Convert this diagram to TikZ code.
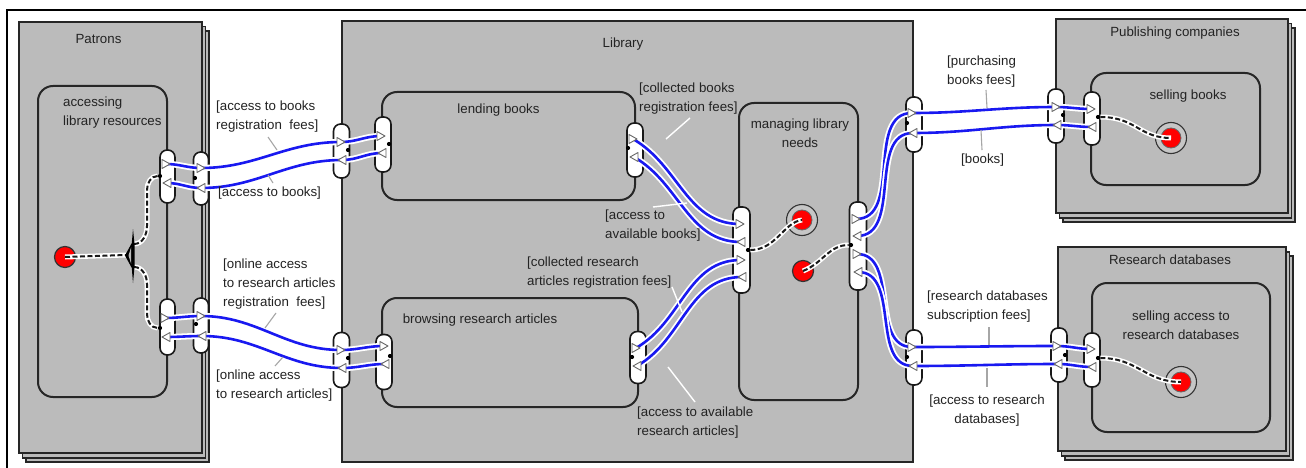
\documentclass[tikz,border=0pt]{standalone}
\usepackage{fontspec}
\setmainfont{Liberation Sans}
\usetikzlibrary{calc}
\definecolor{boxgray}{RGB}{187,187,187}
\definecolor{flowblue}{RGB}{25,25,240}
\definecolor{txt}{RGB}{35,35,35}
\newcommand\trR[1]{\draw[tri] ([shift={(-4,-4.5)}]#1) -- ([shift={(4,0)}]#1) -- ([shift={(-4,4.5)}]#1) -- cycle;}
\newcommand\trL[1]{\draw[tri] ([shift={(4,-4.5)}]#1) -- ([shift={(-4,0)}]#1) -- ([shift={(4,4.5)}]#1) -- cycle;}
\begin{document}
\begin{tikzpicture}[x=1pt,y=-1pt,
  every node/.style={font=\fontsize{13.3}{19}\selectfont, text=txt},
  stack/.style={draw=black!85, line width=1.9, fill=boxgray},
  act/.style={draw=black!85, line width=2, fill=boxgray, rounded corners=15},
  pinbox/.style={draw=black!90, line width=1.6, fill=white, minimum width=15, inner sep=0, rounded corners=7.2},
  flow/.style={draw=flowblue, line width=2.6, preaction={draw=white, line width=6.2}},
  ctrl/.style={draw=black!90, line width=2, dash pattern=on 5pt off 2.5pt, preaction={draw=white, line width=5, solid}},
  lead/.style={draw=gray!70, line width=1.1},
  leadw/.style={draw=white, line width=1.4},
  tri/.style={draw=gray!80!black, fill=white, line width=0.9, line join=round},
  lab/.style={align=left, anchor=west, inner sep=0},
  pdot/.style={circle, fill=black, inner sep=0, minimum size=4.2},
  initnode/.style={circle, fill=red, draw=black!80, line width=1.2, minimum size=21, inner sep=0},
  finring/.style={circle, fill=gray!45, draw=black!80, line width=1.1, minimum size=31, inner sep=0},
  findot/.style={circle, fill=red, draw=black!60, line width=0.8, minimum size=20, inner sep=0}]
\useasboundingbox (0,0) rectangle (1306,468);
\fill[white] (0,0) rectangle (1306,468);
% frame
\draw[line width=1.5] (7,470) -- (7,10) -- (1308,10);

% stacked boxes
\foreach \d in {7,3.5}{
  \draw[stack] (19+\d,22+\d*1.3) rectangle (202+\d,453+\d*1.3);
  \draw[stack] (1056+\d,19+\d*1.3) rectangle (1288+\d,213+\d*1.3);
  \draw[stack] (1058+\d,247+\d*1.3) rectangle (1286+\d,451+\d*1.3);
}
\draw[stack] (19,22) rectangle (202,453);
\draw[stack] (1056,19) rectangle (1288,213);
\draw[stack] (1058,247) rectangle (1286,451);
\draw[stack] (342,21) rectangle (913,462);

% activities
\draw[act] (38,86) rectangle (167,397);
\draw[act] (382,92) rectangle (635,200);
\draw[act] (382,298) rectangle (638,407);
\draw[act] (739,103) rectangle (858,400);
\draw[act] (1091,73) rectangle (1260,185);
\draw[act] (1092,283) rectangle (1270,432);

% titles
\node (tPat) at (98.5,39) {Patrons};
\node (tLib) at (623,44) {Library};
\node (tPub) at (1175,33) {Publishing companies};
\node (tRes) at (1170,260) {Research databases};
\node[lab] (tAcc) at (63,112.5) {accessing\\library resources};
\node (tLend) at (498.5,110) {lending books};
\node (tBrow) at (480,320) {browsing research articles};
\node[align=center] (tMan) at (800,133) {managing library\\needs};
\node (tSell) at (1188,96) {selling books};
\node[align=center] (tSellA) at (1181,325) {selling access to\\research databases};

% pins
\node[pinbox, minimum height=53] (P1) at (167.5,176.5) {};
\node[pinbox, minimum height=53] (P2) at (201,178.5) {};
\node[pinbox, minimum height=56] (P3) at (167.5,327) {};
\node[pinbox, minimum height=55] (P4) at (201,325.5) {};
\node[pinbox, minimum height=54, minimum width=16] (L1) at (341.5,151) {};
\node[pinbox, minimum height=55, minimum width=16] (L2) at (383,144.5) {};
\node[pinbox, minimum height=55, minimum width=16] (L3) at (341.5,360) {};
\node[pinbox, minimum height=55, minimum width=16] (L4) at (384,362) {};
\node[pinbox, minimum height=54, minimum width=16] (L5) at (635,150) {};
\node[pinbox, minimum height=52, minimum width=16] (L6) at (638,357.5) {};
\node[pinbox, minimum height=86, minimum width=17] (M1) at (741.5,250) {};
\node[pinbox, minimum height=88, minimum width=17] (M2) at (858,246) {};
\node[pinbox, minimum height=55, minimum width=16] (R1) at (914,124.5) {};
\node[pinbox, minimum height=55, minimum width=16] (R2) at (914,357.5) {};
\node[pinbox, minimum height=54, minimum width=16] (B1) at (1056,116) {};
\node[pinbox, minimum height=53, minimum width=16] (B2) at (1092,118.5) {};
\node[pinbox, minimum height=54, minimum width=16] (D1) at (1059,355) {};
\node[pinbox, minimum height=54, minimum width=16] (D2) at (1092,360) {};

% triangle points on pins
\coordinate (P1a) at (166,164); \coordinate (P1b) at (167,183);
\coordinate (P2a) at (201,168); \coordinate (P2b) at (201,188);
\coordinate (L1a) at (341,142); \coordinate (L1b) at (342,160);
\coordinate (L2a) at (381,136); \coordinate (L2b) at (382,153);
\coordinate (P3a) at (165,318); \coordinate (P3b) at (166,337);
\coordinate (P4a) at (201,316); \coordinate (P4b) at (202,336);
\coordinate (L3a) at (341,350); \coordinate (L3b) at (342,368);
\coordinate (L4a) at (384,346); \coordinate (L4b) at (385,364);
\coordinate (L5a) at (633,139); \coordinate (L5b) at (634,157);
\coordinate (L6a) at (636,348); \coordinate (L6b) at (637,366);
\coordinate (M1a) at (740,224); \coordinate (M1b) at (741,242);
\coordinate (M1c) at (741,260); \coordinate (M1d) at (742,277);
\coordinate (M2a) at (856,219); \coordinate (M2b) at (857,236);
\coordinate (M2c) at (857,254); \coordinate (M2d) at (858,272);
\coordinate (R1a) at (912,113); \coordinate (R1b) at (913,133);
\coordinate (R2a) at (912,347); \coordinate (R2b) at (913,366);
\coordinate (B1a) at (1056,107); \coordinate (B1b) at (1057,125);
\coordinate (B2a) at (1091,109); \coordinate (B2b) at (1092,127);
\coordinate (D1a) at (1057,346); \coordinate (D1b) at (1058,364);
\coordinate (D2a) at (1091,349); \coordinate (D2b) at (1092,367);

% object flows
\draw[flow] (P1a) to[out=0,in=180] (P2a);
\draw[flow] (P2a) to[out=0,in=180] (L1a);
\draw[flow] (L1a) to[out=0,in=180] (L2a);
\draw[flow] (L2b) to[out=180,in=0] (L1b);
\draw[flow] (L1b) to[out=180,in=0] (P2b);
\draw[flow] (P2b) to[out=180,in=0] (P1b);
\draw[flow] (P3a) to[out=0,in=180] (P4a);
\draw[flow] (P4a) to[out=0,in=180] (L3a);
\draw[flow] (L3a) to[out=0,in=180] (L4a);
\draw[flow] (L4b) to[out=180,in=0] (L3b);
\draw[flow] (L3b) to[out=180,in=0] (P4b);
\draw[flow] (P4b) to[out=180,in=0] (P3b);
\draw[flow] (L5a) to[out=-30,in=180] (M1a);
\draw[flow] (M1b) to[out=180,in=-30] (L5b);
\draw[flow] (L6a) to[out=30,in=180] (M1c);
\draw[flow] (M1d) to[out=180,in=30] (L6b);
\draw[flow] (M2a) to[out=0,in=180] (R1a);
\draw[flow] (R1b) to[out=180,in=0] (M2b);
\draw[flow] (M2c) to[out=0,in=180] (R2a);
\draw[flow] (R2b) to[out=180,in=0] (M2d);
\draw[flow] (R1a) to[out=0,in=180] (B1a);
\draw[flow] (B1b) to[out=180,in=0] (R1b);
\draw[flow] (B1a) to[out=0,in=180] (B2a);
\draw[flow] (B2b) to[out=180,in=0] (B1b);
\draw[flow] (R2a) to[out=0,in=180] (D1a);
\draw[flow] (D1b) to[out=180,in=0] (R2b);
\draw[flow] (D1a) to[out=0,in=180] (D2a);
\draw[flow] (D2b) to[out=180,in=0] (D1b);

% triangles
\trR{P1a} \trL{P1b} \trR{P2a} \trL{P2b}
\trR{L1a} \trL{L1b} \trR{L2a} \trL{L2b}
\trR{P3a} \trL{P3b} \trR{P4a} \trL{P4b}
\trR{L3a} \trL{L3b} \trR{L4a} \trL{L4b}
\trR{L5a} \trL{L5b} \trR{L6a} \trL{L6b}
\trR{M1a} \trL{M1b} \trR{M1c} \trL{M1d}
\trR{M2a} \trL{M2b} \trR{M2c} \trL{M2d}
\trR{R1a} \trL{R1b} \trR{R2a} \trL{R2b}
\trR{B1a} \trL{B1b} \trR{B2a} \trL{B2b}
\trR{D1a} \trL{D1b} \trR{D2a} \trL{D2b}

% pin dots
\node[pdot] (P1d) at (160,176) {};
\node[pdot] (P2d) at (195,178) {};
\node[pdot] (P3d) at (160,328) {};
\node[pdot] (P4d) at (196,324) {};
\node[pdot] (L1d) at (348,150) {};
\node[pdot] (L2d) at (389,144) {};
\node[pdot] (L3d) at (348,358) {};
\node[pdot] (L4d) at (390,356) {};
\node[pdot] (L5d) at (628,148) {};
\node[pdot] (L6d) at (632,357) {};
\node[pdot] (M1d0) at (748,250) {};
\node[pdot] (M2d0) at (851,245) {};
\node[pdot] (R1d) at (907,123) {};
\node[pdot] (R2d) at (907,357) {};
\node[pdot] (B1d) at (1063,115) {};
\node[pdot] (B2d) at (1098,117) {};
\node[pdot] (D1d) at (1065,355) {};
\node[pdot] (D2d) at (1098,358) {};

% initial / final nodes
\node[initnode] (init1) at (65,257) {};
\node[initnode] (init2) at (803,271) {};
\node[finring] (fin1) at (802,220) {};
\node[findot] (fin1d) at (fin1) {};
\node[finring] (fin2) at (1171,138) {};
\node[findot] (fin2d) at (fin2) {};
\node[finring] (fin3) at (1181,382) {};
\node[findot] (fin3d) at (fin3) {};

% fork
\coordinate (forkin) at (126,255);
\coordinate (forktop) at (134,244);
\coordinate (forkbot) at (134,267);
\coordinate (forkv1) at (147,226);
\coordinate (forkv2) at (147,190);
\coordinate (forkv3) at (147,284);
\coordinate (forkv4) at (147,314);

% control flows
\draw[ctrl] (init1.center) -- (forkin);
\draw[ctrl] (forktop) to[out=0,in=-90] (forkv1) -- (forkv2) to[out=90,in=180] (P1d);
\draw[ctrl] (forkbot) to[out=0,in=90] (forkv3) -- (forkv4) to[out=-90,in=180] (P3d);
\draw[ctrl] (M1d0) .. controls +(28,0) and +(-18,2) .. (fin1.center);
\draw[ctrl] (init2.center) .. controls +(20,-8) and +(-22,0) .. (M2d0);
\draw[ctrl] (B2d) .. controls +(38,0) and +(-32,0) .. (fin2.center);
\draw[ctrl] (D2d) .. controls +(40,0) and +(-36,0) .. (fin3.center);

% fork bar
\fill[black] (133,229) -- (134.6,245) -- (134.6,266) -- (133,283) -- (131.8,268) -- (125,255.5) -- (131.8,243) -- cycle;
\fill[boxgray] (131.2,247) -- (128.5,255.5) -- (131.2,264) -- cycle;

% labels
\node[lab] (T1) at (216,117) {[access to books\\registration~~fees]};
\node[lab] (T2) at (218,193) {[access to books]};
\node[lab] (T3) at (223,284) {[online access\\to research articles\\registration~~fees]};
\node[lab] (T4) at (216,385.5) {[online access\\to research articles]};
\node[lab] (T5) at (639,98.5) {[collected books\\registration fees]};
\node[lab] (T6) at (605,226) {[access to\\available books]};
\node[lab] (T7) at (527,272.5) {[collected research\\articles registration fees]};
\node[lab] (T8) at (637,422.5) {[access to available\\research articles]};
\node[lab] (T9) at (947,71.5) {[purchasing\\books fees]};
\node[lab] (T10) at (961,160) {[books]};
\node[lab] (T11) at (927,306.5) {[research databases\\subscription fees]};
\node[align=center, inner sep=0] (T12) at (987,410.5) {[access to research\\databases]};

% leader lines
\coordinate (T1x) at (268,137); \coordinate (T1y) at (277,150);
\coordinate (T2x) at (268,175); \coordinate (T2y) at (273,183);
\coordinate (T3x) at (276,313); \coordinate (T3y) at (265,328);
\coordinate (T4x) at (283,357); \coordinate (T4y) at (275,366);
\coordinate (T5x) at (690,118); \coordinate (T5y) at (666,139);
\coordinate (T6x) at (653,207); \coordinate (T6y) at (687,203);
\coordinate (T7x) at (672,287); \coordinate (T7y) at (682,312);
\coordinate (T8x) at (668,367); \coordinate (T8y) at (695,402);
\coordinate (T9x) at (986,90);  \coordinate (T9y) at (987,108);
\coordinate (T10x) at (981,130); \coordinate (T10y) at (982,150);
\coordinate (T11x) at (989,327); \coordinate (T11y) at (989,345);
\coordinate (T12x) at (987,368); \coordinate (T12y) at (987,387);
\draw[lead] (T1x) -- (T1y);
\draw[lead] (T2x) -- (T2y);
\draw[lead] (T3x) -- (T3y);
\draw[lead] (T4x) -- (T4y);
\draw[leadw] (T5x) -- (T5y);
\draw[leadw] (T6x) -- (T6y);
\draw[leadw] (T7x) -- (T7y);
\draw[leadw] (T8x) -- (T8y);
\draw[lead] (T9x) -- (T9y);
\draw[lead] (T10x) -- (T10y);
\draw[lead] (T11x) -- (T11y);
\draw[lead] (T12x) -- (T12y);
\end{tikzpicture}
\end{document}
